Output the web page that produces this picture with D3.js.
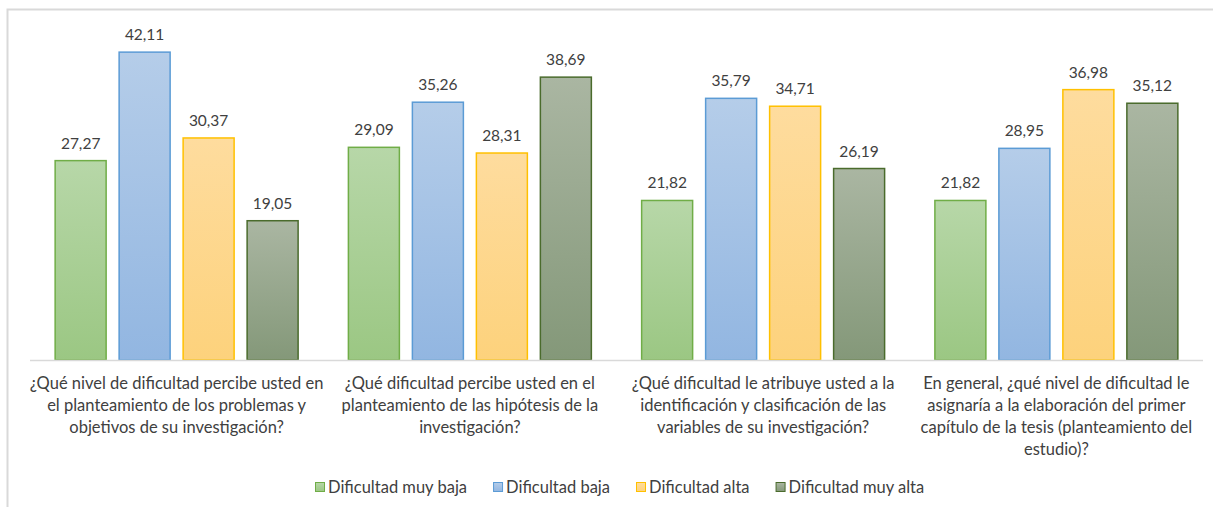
<!DOCTYPE html>
<meta charset="utf-8">
<style>
body { margin: 0; background: #fff; }
text { font-family: Lato, "Open Sans", sans-serif; fill: #404040; }
</style>
<svg width="1213" height="507"></svg>
<script src="https://cdn.jsdelivr.net/npm/d3@7"></script>
<script>

// questions, one line per entry (as wrapped in the original)
var categories = [
  ["¿Qué nivel de dificultad percibe usted en", "el planteamiento de los problemas y", "objetivos de su investigación?"],
  ["¿Qué dificultad percibe usted en el", "planteamiento de las hipótesis de la", "investigación?"],
  ["¿Qué dificultad le atribuye usted a la", "identificación y clasificación de las", "variables de su investigación?"],
  ["En general, ¿qué nivel de dificultad le", "asignaría a la elaboración del primer", "capítulo de la tesis (planteamiento del", "estudio)?"]
];
var series = ["Dificultad muy baja", "Dificultad baja", "Dificultad alta", "Dificultad muy alta"];
var muyBaja = [27.27, 29.09, 21.82, 21.82];
var baja    = [42.11, 35.26, 35.79, 28.95];
var alta    = [30.37, 28.31, 34.71, 36.98];
var muyAlta = [19.05, 38.69, 26.19, 35.12];

var values = [muyBaja, baja, alta, muyAlta];

// top colour, bottom colour, border
var colors = [
  ["#b7d7a8", "#9bc783", "#70ad47"],
  ["#b5cde9", "#92b6e1", "#5b9bd5"],
  ["#fedc9e", "#fdd27c", "#ffc000"],
  ["#aab6a2", "#849879", "#4a6b2c"]
];

var svg = d3.select("svg");

// chart frame
svg.append("rect")
  .attr("x", 7.5).attr("y", 9.5)
  .attr("width", 1230).attr("height", 520)
  .attr("fill", "none")
  .attr("stroke", "#d9d9d9")
  .attr("stroke-width", 2);

var defs = svg.append("defs");
colors.forEach(function(c, i) {
  var g = defs.append("linearGradient")
    .attr("id", "grad" + i)
    .attr("x1", 0).attr("y1", 0).attr("x2", 0).attr("y2", 1);
  g.append("stop").attr("offset", "0%").attr("stop-color", c[0]);
  g.append("stop").attr("offset", "100%").attr("stop-color", c[1]);
});

var x0 = d3.scaleBand()
  .domain(d3.range(categories.length))
  .range([30, 1203]);

var x1 = d3.scaleBand()
  .domain(d3.range(series.length))
  .range([0, x0.bandwidth()])
  .paddingInner(0.1875)
  .paddingOuter(0.385);

var y = d3.scaleLinear()
  .domain([0, 45])
  .range([360, 31]);

var groups = svg.append("g").selectAll("g")
  .data(categories)
  .enter().append("g")
    .attr("transform", function(d, i) { return "translate(" + x0(i) + ",0)"; });

groups.selectAll("rect")
  .data(function(d, i) { return values.map(function(v, s) { return {s: s, v: v[i]}; }); })
  .enter().append("rect")
    .attr("x", function(d) { return x1(d.s) + 0.5; })
    .attr("y", function(d) { return y(d.v); })
    .attr("width", x1.bandwidth() - 1)
    .attr("height", function(d) { return y(0) - y(d.v); })
    .attr("fill", function(d) { return "url(#grad" + d.s + ")"; })
    .attr("stroke", function(d) { return colors[d.s][2]; })
    .attr("stroke-width", 1.5);

groups.selectAll("text.val")
  .data(function(d, i) { return values.map(function(v, s) { return {s: s, v: v[i]}; }); })
  .enter().append("text")
    .attr("class", "val")
    .attr("x", function(d) { return x1(d.s) + x1.bandwidth() / 2; })
    .attr("y", function(d) { return y(d.v) - 12; })
    .attr("text-anchor", "middle")
    .style("font-size", "15.5px")
    .text(function(d) { return d.v.toFixed(2).replace(".", ","); });

// baseline
svg.append("line")
  .attr("x1", 30).attr("x2", 1203)
  .attr("y1", y(0) + 0.5).attr("y2", y(0) + 0.5)
  .attr("stroke", "#d9d9d9")
  .attr("stroke-width", 1.5);

// category labels
groups.append("text")
  .attr("text-anchor", "middle")
  .style("font-size", "16.5px")
  .selectAll("tspan")
  .data(function(d) { return d; })
  .enter().append("tspan")
    .attr("x", x0.bandwidth() / 2)
    .attr("y", function(d, i) { return 389 + i * 22; })
    .text(function(d) { return d; });

// legend
var legend = svg.append("g");
var lx = 315;
series.forEach(function(s, i) {
  legend.append("rect")
    .attr("x", lx + 0.5).attr("y", 482.5)
    .attr("width", 9).attr("height", 9)
    .attr("fill", "url(#grad" + i + ")")
    .attr("stroke", colors[i][2]);
  var t = legend.append("text")
    .attr("x", lx + 13).attr("y", 493)
    .style("font-size", "16.5px")
    .text(s);
  lx += 13 + t.node().getComputedTextLength() + 26;
});

</script>
